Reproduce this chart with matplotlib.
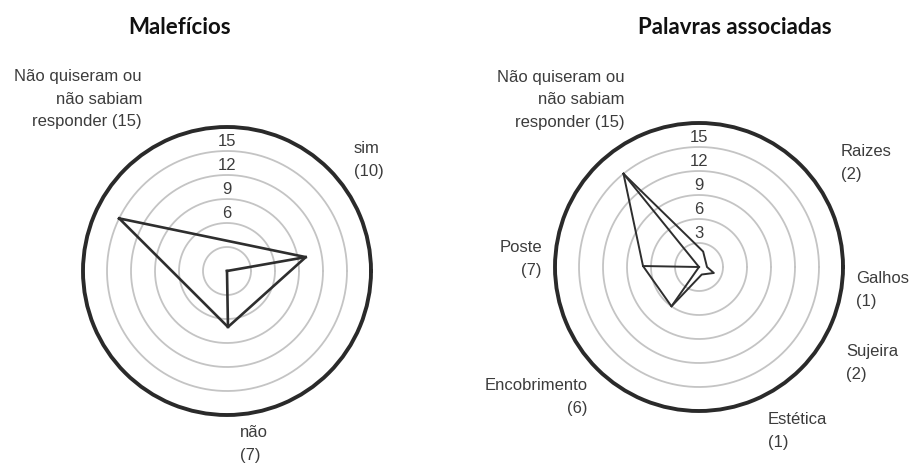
"""Two radar charts: Malefícios and Palavras associadas."""
import numpy as np
import matplotlib.pyplot as plt

W, H = 911, 464

# Malefícios
left_labels = ["Não quiseram ou\nnão sabiam\nresponder (15)", "sim\n(10)", "não\n(7)"]
left_values = [15, 10, 7]
left_angles = [154, 10, 271]

# Palavras associadas
right_labels = ["Não quiseram ou\nnão sabiam\nresponder (15)", "Raizes\n(2)", "Galhos\n(1)",
                "Sujeira\n(2)", "Estética\n(1)", "Encobrimento\n(6)", "Poste\n(7)"]
right_values = [15, 2, 1, 2, 1, 6, 7]
right_angles = [129, 75, 0, -22, -70, 235, 179]
right_spokes = [0, 5, 6]  # categories also joined to the centre

rings = [3, 6, 9, 12, 15]
left_ring_labels = [6, 9, 12, 15]
right_ring_labels = [3, 6, 9, 12, 15]
r_max = 18

LABEL_FONT = ["Liberation Sans", "DejaVu Sans"]
TITLE_FONT = ["Lato", "DejaVu Sans"]
TEXT = "#3c3c3c"
LINE = "#2e2e2e"


def make_axis(fig, cx, cy, radius=144):
    ax = fig.add_axes([(cx - radius) / W, (H - cy - radius) / H, 2 * radius / W, 2 * radius / H],
                      projection="polar")
    ax.set_ylim(0, r_max)
    ax.set_xticks([])
    ax.set_yticks([])
    ax.grid(False)
    ax.spines["polar"].set_linewidth(2.8)
    ax.spines["polar"].set_color("#2a2a2a")
    t = np.linspace(0, 2 * np.pi, 400)
    for ring in rings:
        ax.plot(t, np.full_like(t, ring), color="#c4c4c4", lw=1.3, zorder=1)
    return ax


def ring_text(ax, values):
    for ring in values:
        ax.text(np.pi / 2, ring + 1.3, str(ring), ha="center", va="center", fontsize=12,
                color=TEXT, family=LABEL_FONT, zorder=3)


def label(x, y, text, ha):
    plt.gcf().text(x / W, 1 - y / H, text, ha=ha, va="center", fontsize=12, color=TEXT,
                   family=LABEL_FONT, linespacing=1.6)


fig = plt.figure(figsize=(W / 100, H / 100), dpi=100)

# left chart
ax1 = make_axis(fig, 227, 272)
th = np.deg2rad(left_angles)
tri = [0, 1, 2, 0]
ax1.plot(th[tri], np.array(left_values)[tri], color=LINE, lw=1.9, zorder=4)
for i in (1, 2):
    ax1.plot([th[i], th[i]], [0, left_values[i]], color=LINE, lw=1.9, zorder=4)
ring_text(ax1, left_ring_labels)

label(142, 99, left_labels[0], "right")
label(354, 160, left_labels[1], "left")
label(240, 444, left_labels[2], "left")
fig.text(180 / W, 1 - 27 / H, "Malefícios", ha="center", va="center", fontsize=16,
         fontweight="bold", family=TITLE_FONT, color="#111111")

# right chart
ax2 = make_axis(fig, 699, 268)
th = np.deg2rad(right_angles)
order = list(range(len(right_values))) + [0]
ax2.plot(th[order], np.array(right_values)[order], color=LINE, lw=1.4, zorder=4)
for i in right_spokes:
    ax2.plot([th[i], th[i]], [0, right_values[i]], color=LINE, lw=1.4, zorder=4)
ring_text(ax2, right_ring_labels)

label(625, 100, right_labels[0], "right")
label(841, 163, right_labels[1], "left")
label(856, 290, right_labels[2], "left")
label(846, 363, right_labels[3], "left")
label(768, 431, right_labels[4], "left")
label(588, 397, right_labels[5], "right")
label(542, 259, right_labels[6], "right")
fig.text(735 / W, 1 - 27 / H, "Palavras associadas", ha="center", va="center", fontsize=16,
         fontweight="bold", family=TITLE_FONT, color="#111111")

fig.savefig("out.png", dpi=100)
